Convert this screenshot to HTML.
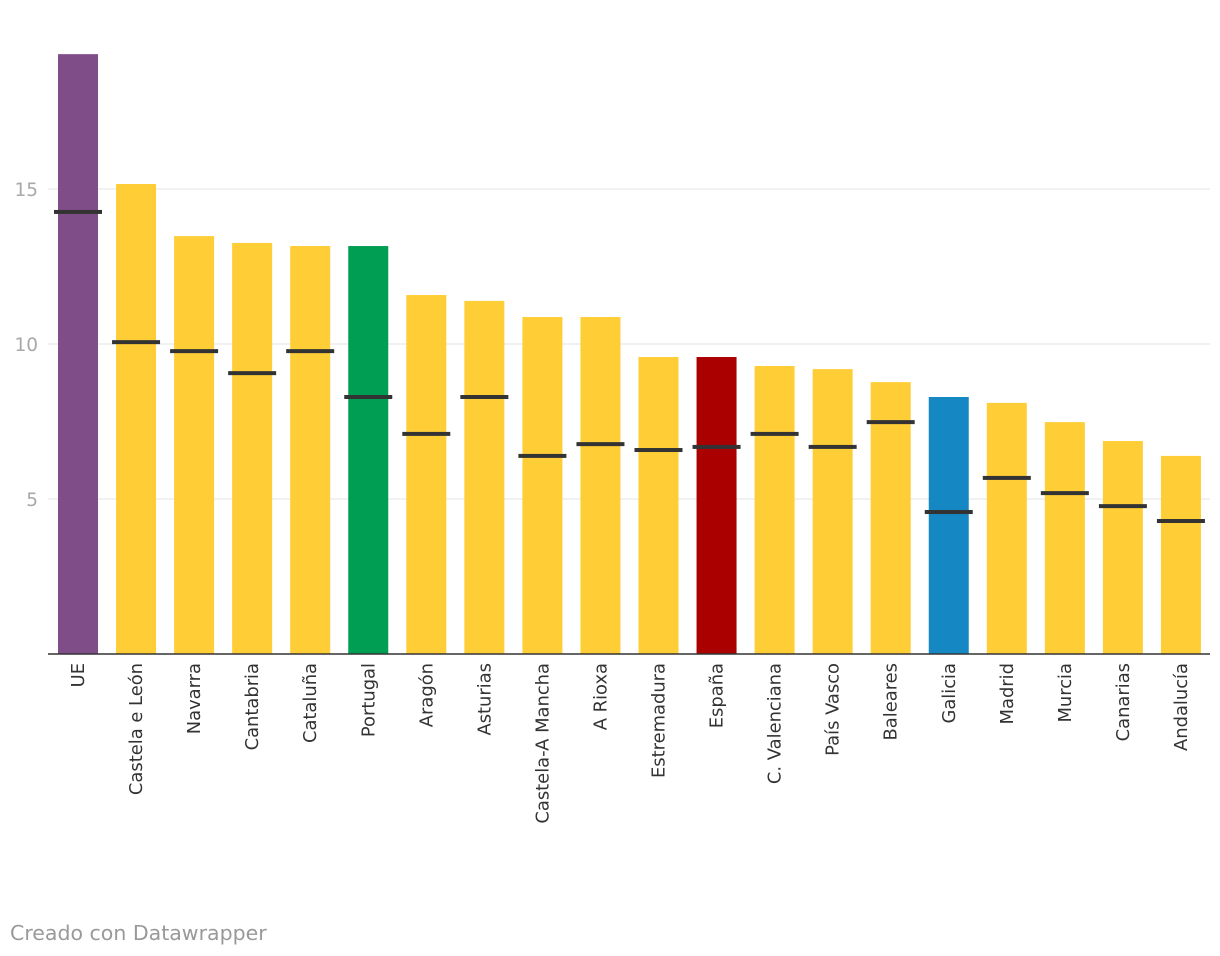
<!DOCTYPE html>
<html><head><meta charset="utf-8"><style>
html,body{margin:0;padding:0;background:#fff;width:1220px;height:956px;overflow:hidden;font-family:"DejaVu Sans",sans-serif}
</style></head><body>
<svg id="chart" width="1220" height="956" xmlns="http://www.w3.org/2000/svg"></svg>
<script>
const categories=["UE","Castela e León","Navarra","Cantabria","Cataluña","Portugal","Aragón","Asturias","Castela-A Mancha","A Rioxa","Estremadura","España","C. Valenciana","País Vasco","Baleares","Galicia","Madrid","Murcia","Canarias","Andalucía"];
const barValues=[19.35,15.16,13.48,13.26,13.16,13.16,11.58,11.39,10.87,10.87,9.58,9.58,9.29,9.19,8.77,8.29,8.1,7.48,6.87,6.39];
const markerValues=[14.26,10.06,9.77,9.06,9.77,8.29,7.1,8.29,6.39,6.77,6.58,6.68,7.1,6.68,7.48,4.58,5.68,5.19,4.77,4.29];
const barColors=["#7f4e88","#ffcd35","#ffcd35","#ffcd35","#ffcd35","#009e52","#ffcd35","#ffcd35","#ffcd35","#ffcd35","#ffcd35","#ab0000","#ffcd35","#ffcd35","#ffcd35","#1587c2","#ffcd35","#ffcd35","#ffcd35","#ffcd35"];
const yTicks=[5,10,15];
const NS="http://www.w3.org/2000/svg";
const svg=document.getElementById('chart');
const y0=654,pxPer=31;
const y=v=>y0-v*pxPer;
const x=i=>58+i*58.05;
const bw=40;
function mk(t,a){const e=document.createElementNS(NS,t);for(const k in a)e.setAttribute(k,a[k]);svg.appendChild(e);return e;}
yTicks.forEach(t=>{
  const g=mk('line',{x1:48,x2:1210,y1:y(t),y2:y(t),stroke:'#e3e3e3','stroke-width':1});
  
  
  const l=mk('text',{x:38,y:y(t)+7,'text-anchor':'end','font-size':18.5,fill:'#a8a8a8'});
  l.textContent=t;
  
  
});
categories.forEach((c,i)=>{
  const b=mk('rect',{x:x(i),y:y(barValues[i]),width:bw,height:y0-y(barValues[i]),fill:barColors[i]});
  
  
  const m=mk('rect',{x:x(i)-4,y:y(markerValues[i])-2,width:bw+8,height:4,fill:'#333'});
  
  
  const cx=x(i)+bw/2+6;
  const t=mk('text',{x:0,y:0,transform:`translate(${cx},663) rotate(-90)`,'text-anchor':'end','font-size':17.9,fill:'#333'});
  t.textContent=c;
  
  
});
const ax=mk('line',{x1:48,x2:1210,y1:y0,y2:y0,stroke:'#333','stroke-width':1.5});


const f=mk('text',{x:10,y:940,'font-size':20.5,fill:'#999'});
f.textContent='Creado con Datawrapper';


</script>
</body></html>
